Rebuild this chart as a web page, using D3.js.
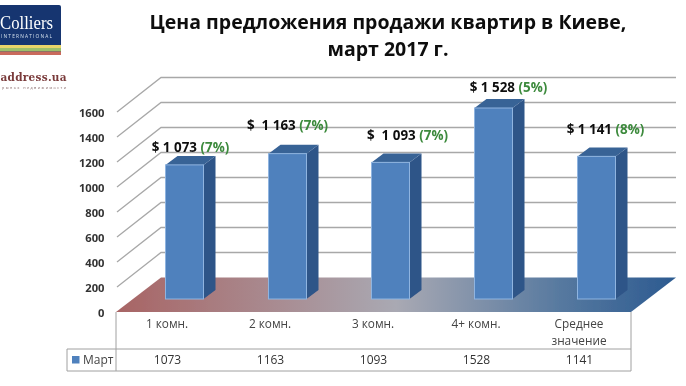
<!DOCTYPE html>
<html><head><meta charset="utf-8">
<script src="https://cdn.jsdelivr.net/npm/d3@7"></script>
<style>html,body{margin:0;padding:0;background:#fff}svg{display:block}text{font-family:"Open Sans",sans-serif}</style>
</head><body><svg id="c" width="686" height="386"></svg>
<script>
const titleLines = ["Цена предложения продажи квартир в Киеве,", "март 2017 г."];
const categories = ["1 комн.", "2 комн.", "3 комн.", "4+ комн.", "Среднее значение"];
const values = [1073, 1163, 1093, 1528, 1141];
const priceLabels = ["$ 1 073", "$  1 163", "$  1 093", "$ 1 528", "$ 1 141"];
const shareLabels = ["(7%)", "(7%)", "(7%)", "(5%)", "(8%)"];
const ticks = [0, 200, 400, 600, 800, 1000, 1200, 1400, 1600];
const seriesName = "Март";

const labelNudgeX = [6, 0, 17, 15, 9];
const labelNudgeY = [-13, -24, -22, -16, -22];

const svg = d3.select("#c");
const defs = svg.append("defs");
const blur = defs.append("filter").attr("id", "soft").attr("x", "-5%").attr("y", "-5%").attr("width", "110%").attr("height", "110%");
blur.append("feGaussianBlur").attr("stdDeviation", 0.35);
const g = defs.append("linearGradient").attr("id", "floor");
[[0, "#a86464"], [0.5, "#a9a9b3"], [0.8, "#55789f"], [1, "#2c5a90"]].forEach(s =>
  g.append("stop").attr("offset", s[0]).attr("stop-color", s[1]));

const root = svg.append("g").attr("filter", "url(#soft)");

const left = 116, right = 631, depthX = 45, depthY = 34.5, barLift = 13, barLiftX = 17, sideX = 12, sideY = 9;
const x = d3.scaleBand().domain(categories).range([left, right]);
const y = d3.scaleLinear().domain([0, 1600]).range([312, 112]);
const barW = 38;

// Floor
const y0 = y(0);
root.append("path").attr("fill", "url(#floor)")
  .attr("d", `M${left},${y0}L${left + depthX},${y0 - depthY}L${right + depthX},${y0 - depthY}L${right},${y0}Z`);

// Gridlines
const grid = root.append("g").attr("fill", "none").attr("stroke", "#a8a8a8").attr("stroke-width", 1.3);
ticks.filter(t => t > 0).forEach(t => {
  grid.append("path").attr("d", `M${left + 1},${y(t)}L${left + depthX},${y(t) - depthY}L${right + depthX},${y(t) - depthY}`);
});

// Tick labels
root.append("g").selectAll("text").data(ticks).join("text")
  .attr("x", 104.5).attr("y", d => y(d) + 4.5).attr("text-anchor", "end")
  .attr("font-size", 11.2).attr("font-weight", 700).attr("fill", "#333").text(d => d);

// Bars
const bars = root.append("g").selectAll("g").data(categories).join("g");
const bx = d => x(d) + x.bandwidth() / 2 + barLiftX - barW / 2;
const vOf = d => values[categories.indexOf(d)];
bars.append("path").attr("fill", "#2f5488").attr("d", d => {
  const a = bx(d) + barW, t = y(vOf(d)) - barLift, b = y0 - barLift;
  return `M${a},${t}L${a + sideX},${t - sideY}L${a + sideX},${b - sideY}L${a},${b}Z`;
});
bars.append("path").attr("fill", "#386396").attr("d", d => {
  const a = bx(d), t = y(vOf(d)) - barLift;
  return `M${a},${t}L${a + sideX},${t - sideY}L${a + barW + sideX},${t - sideY}L${a + barW},${t}Z`;
});
bars.append("rect").attr("fill", "#4f81bd").attr("stroke", "#8fb4e0").attr("stroke-width", 1)
  .attr("x", bx).attr("y", d => y(vOf(d)) - barLift).attr("width", barW)
  .attr("height", d => y0 - y(vOf(d)));

// Value labels
const lab = root.append("g").selectAll("text").data(categories).join("text")
  .attr("x", (d, i) => bx(d) + barW / 2 + labelNudgeX[i])
  .attr("y", (d, i) => y(vOf(d)) - barLift + labelNudgeY[i])
  .attr("text-anchor", "middle").attr("font-size", 13.4).attr("font-weight", 700).attr("xml:space", "preserve");
lab.append("tspan").attr("fill", "#111").text((d, i) => priceLabels[i] + " ");
lab.append("tspan").attr("fill", "#3c8a3c").text((d, i) => shareLabels[i]);

// Table
const tb = root.append("g").attr("fill", "none").attr("stroke", "#a0a0a0").attr("stroke-width", 1);
tb.append("path").attr("d", `M${left},${y0}V371M${right},${y0}V371M67,349H${right}M67,371H${right}M67,349V371`);
const catLines = categories.map(c => c === "Среднее значение" ? ["Среднее", "значение"] : [c]);
const cats = root.append("g").selectAll("text").data(categories).join("text")
  .attr("text-anchor", "middle").attr("font-size", 11.8).attr("fill", "#444");
cats.each(function (d, i) {
  catLines[i].forEach((s, k) => d3.select(this).append("tspan")
    .attr("x", x(d) + x.bandwidth() / 2 - 0.5).attr("y", 328 + k * 17).text(s));
});
root.append("g").selectAll("text").data(categories).join("text")
  .attr("x", d => x(d) + x.bandwidth() / 2).attr("y", 364).attr("text-anchor", "middle")
  .attr("font-size", 12).attr("fill", "#333").text(d => vOf(d));
root.append("rect").attr("x", 72).attr("y", 356).attr("width", 7.5).attr("height", 7.5).attr("fill", "#4f81bd");
root.append("text").attr("x", 83).attr("y", 364).attr("font-size", 12).attr("fill", "#444").text(seriesName);

// Title
root.append("g").selectAll("text").data(titleLines).join("text")
  .attr("x", 388).attr("y", (d, i) => 29 + i * 27).attr("text-anchor", "middle")
  .attr("font-size", 19.5).attr("font-weight", 700).attr("fill", "#111").text(d => d);

// Logos
const logo = root.append("g");
logo.append("rect").attr("x", -6).attr("y", 5).attr("width", 67).attr("height", 50).attr("rx", 2).attr("fill", "#12356f");
[["#e8d46a", 45], ["#9cc06a", 48], ["#c96a5c", 51.5]].forEach(s =>
  logo.append("rect").attr("x", 0).attr("y", s[1]).attr("width", 61).attr("height", 3.5).attr("fill", s[0]));
logo.append("text").attr("x", 0).attr("y", 28.5).style("font-family", "'Liberation Serif'").attr("font-size", 19).attr("textLength", 53).attr("lengthAdjust", "spacingAndGlyphs").attr("fill", "#fff").text("Colliers");
logo.append("text").attr("x", 1).attr("y", 37.5).attr("font-size", 4.8).attr("textLength", 51).attr("fill", "#d8e0ee").text("INTERNATIONAL");
logo.append("text").attr("x", 0.5).attr("y", 81).style("font-family", "'DejaVu Serif'").attr("font-weight", 700).attr("font-size", 10.5).attr("textLength", 66).attr("fill", "#7a3b3b").text("address.ua");
logo.append("text").attr("x", 2).attr("y", 88.5).attr("font-size", 3.6).attr("textLength", 64).attr("fill", "#7a5a5a").text("рынок недвижимости");
</script></body></html>
